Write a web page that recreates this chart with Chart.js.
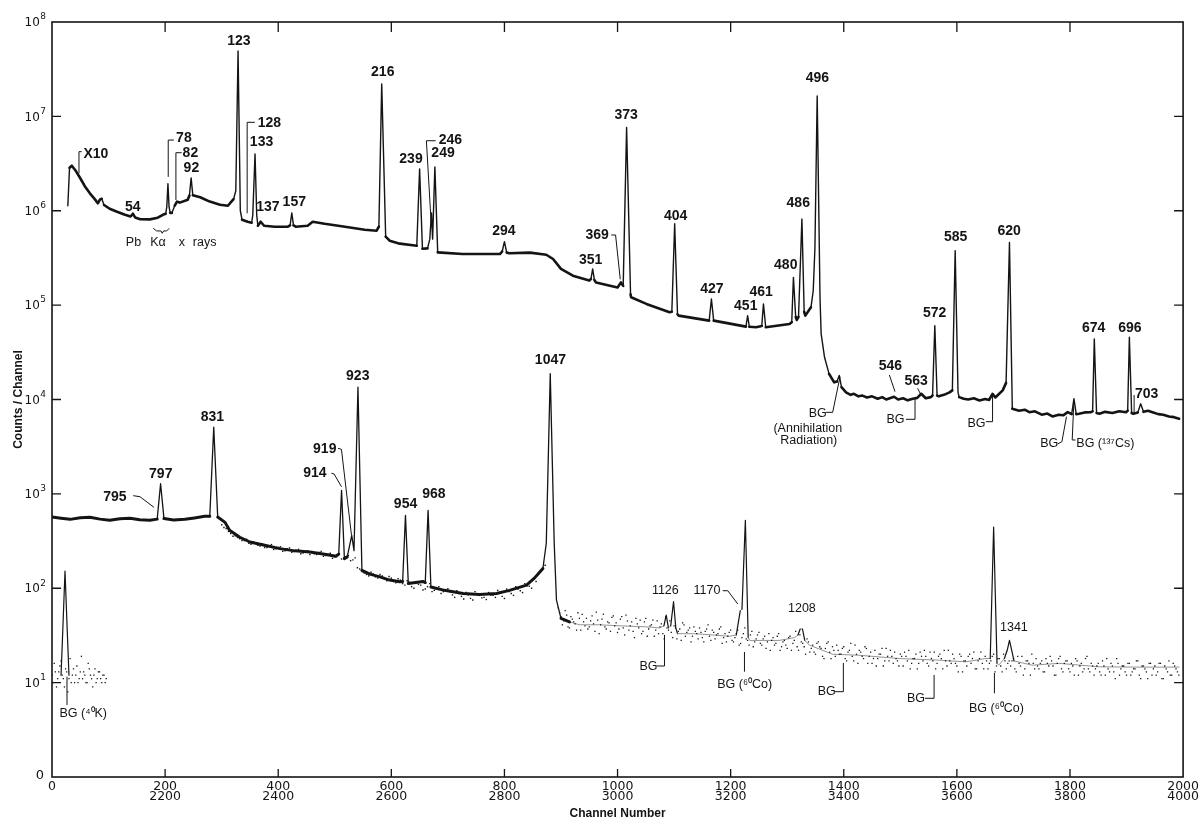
<!DOCTYPE html>
<html><head><meta charset="utf-8">
<script src="https://cdn.jsdelivr.net/npm/chart.js@4.4.0/dist/chart.umd.min.js"></script>
<style>html,body{margin:0;padding:0;background:#fff;}canvas{display:block;}</style>
</head><body>
<canvas id="c" width="1203" height="821"></canvas>
<script>
// ---------- tick values ----------
const xTickValues = [0,200,400,600,800,1000,1200,1400,1600,1800,2000];
const yTickValues = [1,10,100,1e3,1e4,1e5,1e6,1e7,1e8];

// ---------- upper spectrum: channels 0-2000, [channel, counts] ----------
const upperSpectrum = [[28,1.13e6],[31,2.85e6],[35,3.0e6],[42,2.65e6],[50,2.21e6],[58,1.82e6],[67,1.53e6],[76,1.32e6],[81,1.2e6],[85,1.32e6],[88,1.34e6],[92,1.15e6],[102,1.05e6],[115,9.76e5],[129,9.07e5],[139,8.7e5],[143,9.3e5],[147,8.5e5],[156,8.13e5],[173,8.1e5],[187,8.44e5],[196,9.07e5],[201,9.3e5],[203,1.1e6],[205,1.93e6],[207,1.1e6],[209,9.5e5],[212,9.5e5],[217,1.13e6],[221,1.25e6],[226,1.22e6],[240,1.31e6],[243,1.45e6],[246,2.23e6],[249,1.46e6],[262,1.39e6],[279,1.25e6],[297,1.16e6],[311,1.13e6],[321,1.33e6],[325,1.63e6],[329,4.93e7],[333,1.0e6],[336,8.03e5],[346,7.65e5],[353,7.46e5],[355,9e5],[359,4.01e6],[362,9e5],[364,6.94e5],[369,7.65e5],[375,6.94e5],[394,6.78e5],[417,6.78e5],[421,7e5],[424,9.5e5],[427,7e5],[431,6.78e5],[452,6.94e5],[461,7.65e5],[482,7.28e5],[518,6.78e5],[553,6.3e5],[574,6.14e5],[578,6.78e5],[583,2.21e7],[590,5.31e5],[597,4.82e5],[615,4.48e5],[645,4.26e5],[650,2.78e6],[655,3.96e5],[664,3.99e5],[668,5e5],[671,9.5e5],[673,5e5],[677,2.92e6],[682,3.62e5],[726,3.48e5],[792,3.48e5],[796,3.7e5],[800,4.7e5],[804,3.6e5],[809,3.55e5],[845,3.6e5],[874,3.42e5],[886,3.08e5],[900,2.42e5],[921,2.05e5],[950,1.82e5],[953,1.9e5],[956,2.42e5],[959,1.85e5],[962,1.74e5],[1000,1.54e5],[1006,1.74e5],[1010,1.6e5],[1016,7.62e6],[1023,1.3e5],[1024,1.21e5],[1051,1.03e5],[1092,8.4e4],[1096,8.5e4],[1101,7.28e5],[1106,8e4],[1108,7.74e4],[1162,6.85e4],[1166,1.16e5],[1170,6.85e4],[1227,5.92e4],[1230,7.74e4],[1233,5.9e4],[1245,5.83e4],[1255,6e4],[1258,1.03e5],[1262,5.83e4],[1304,6.32e4],[1308,6.6e4],[1311,1.97e5],[1315,7.5e4],[1317,6.97e4],[1320,7.5e4],[1326,8.17e5],[1330,8.5e4],[1332,7.74e4],[1342,9.48e4],[1346,1.42e5],[1349,4e5],[1353,1.65e7],[1358,1.2e5],[1360,4.96e4],[1366,2.8e4],[1374,1.87e4],[1383,1.52e4],[1388,1.55e4],[1392,1.8e4],[1396,1.35e4],[1404,1.19e4],[1412,1.12e4],[1418,1.15e4],[1426,1.08e4],[1433,1.1e4],[1441,1.05e4],[1450,1.08e4],[1460,1.02e4],[1468,1.06e4],[1475,1.0e4],[1489,1.07e4],[1496,1.0e4],[1505,1.03e4],[1513,9.8e3],[1522,1.02e4],[1530,1.04e4],[1537,1.15e4],[1545,1.03e4],[1554,1.06e4],[1557,1.1e4],[1561,6.07e4],[1565,1.1e4],[1568,1.08e4],[1577,1.12e4],[1587,1.19e4],[1592,1.25e4],[1597,3.78e5],[1602,1.2e4],[1604,1.06e4],[1612,1.02e4],[1620,1.0e4],[1630,1.03e4],[1640,9.76e3],[1650,1.01e4],[1657,9.9e3],[1663,1.15e4],[1668,1.05e4],[1681,1.25e4],[1687,1.5e4],[1693,4.62e5],[1698,7.97e3],[1710,7.6e3],[1720,7.8e3],[1728,7.34e3],[1738,7.5e3],[1750,6.9e3],[1760,7.1e3],[1769,6.61e3],[1780,6.9e3],[1788,6.8e3],[1796,7.34e3],[1803,7e3],[1807,1.02e4],[1811,7e3],[1816,7.06e3],[1826,7.3e3],[1837,7.34e3],[1840,7.5e3],[1843,4.39e4],[1847,7.2e3],[1852,7.06e3],[1862,7.4e3],[1875,7.2e3],[1887,7.5e3],[1899,7.34e3],[1902,7.6e3],[1905,4.56e4],[1909,7.2e3],[1912,7.06e3],[1920,7.3e3],[1925,9e3],[1930,7.4e3],[1938,7.6e3],[1946,7.34e3],[1956,7.0e3],[1965,6.9e3],[1975,6.61e3],[1984,6.5e3],[1993,6.25e3]];

// ---------- lower spectrum: channels 2000-4000, [channel, counts] ----------
const lowerSpectrumA = [[2000,568],[2016,552],[2032,537],[2050,558],[2067,564],[2085,540],[2102,525],[2120,545],[2138,551],[2155,532],[2173,525],[2186,540],[2192,1280],[2198,547],[2215,530],[2235,537],[2252,556],[2270,578],[2279,580],[2286,5090],[2293,568],[2306,499],[2314,411],[2332,347],[2350,309],[2376,285],[2403,263],[2429,249],[2456,242],[2482,229],[2502,218],[2507,230],[2512,1090],[2517,206],[2522,215],[2530,364],[2534,250],[2541,13500],[2548,155],[2562,141],[2580,132],[2597,122],[2615,117],[2620,118],[2625,592],[2630,112],[2656,118],[2660,115],[2665,669],[2670,103],[2694,95],[2727,88],[2756,86],[2786,88],[2809,95],[2839,108],[2853,128],[2868,162],[2874,300],[2881,18800],[2888,300],[2892,75],[2900,48],[2915,44]];
const lowerSpectrumB = [[2915,44],[2933,41],[2968,41],[3003,40],[3051,39],[3074,38],[3082,40],[3086,52],[3090,38],[3094,40],[3099,72],[3103,38],[3106,33],[3136,33],[3168,32],[3198,31],[3210,32],[3217,58],[3220,60],[3226,525],[3231,30],[3234,28],[3260,28],[3286,28],[3313,30],[3319,32],[3323,37],[3327,37],[3331,28],[3339,25],[3380,20],[3427,19.5],[3498,18],[3569,17.3],[3616,16.6],[3651,18],[3659,18],[3665,445],[3671,16],[3674,15.3],[3684,18],[3689,22],[3693,28],[3697,22],[3701,17],[3733,15.3],[3781,16],[3852,14.7],[3922,14.6],[3993,14.6]];
const noiseAStart = 2300, noiseAStep = 8;
const noiseACounts = [470,430,380,360,335,320,300,310,285,295, 270,290,262,275,250,268,245,258,236,250, 240,228,246,222,235,215,230,210,222,200, 165,150,140,148,132,140,125,133,118,126, 112,120,104,115,108,98,112,95,104,92, 99,85,94,82,90,78,92,84,80,90, 84,95,82,98,88,104,94,112,105,125, 140,160];
const noiseA2Start = 2304, noiseA2Step = 8;
const noiseA2Counts = [440,400,355,345,320,330,292,300,280,270, 282,258,270,246,262,240,252,232,244,228, 232,240,218,230,208,224,204,215,196,210, 160,145,135,142,128,135,120,128,114,122, 108,116,100,110,96,104,92,100,88,96, 92,80,88,77,85,75,86,79,76,84, 80,90,78,92,84,98,90,106,100,118, 150,175];
const noiseBStart = 2895, noiseBStep = 5;
const noiseBCounts = [62,50,45,52,38,47,42,55,36,44, 48,39,51,35,46,41,53,37,43,49, 40,34,47,38,52,36,44,30,42,46, 35,48,37,41,31,45,39,33,50,36, 34,40,29,37,43,31,36,27,39,33, 38,30,35,41,28,34,32,37,26,33, 31,36,27,33,25,30,38,28,32,24, 29,34,25,31,27,22,30,26,33,24, 28,23,31,26,35,22,27,24,29,21, 25,20,27,23,18,26,21,24,19,22, 20,24,17,22,19,25,16,21,18,23, 19,16,22,18,20,15,23,17,19,21, 17,20,15,19,22,16,18,14,21,17, 19,15,18,21,16,20,14,17,22,16, 18,15,20,13,17,19,16,21,14,18, 16,19,14,17,20,15,18,13,17,16, 15,18,13,16,19,14,17,12,16,18, 14,17,13,16,19,15,12,18,14,16, 17,13,15,18,12,16,14,19,13,15, 14,16,12,15,18,13,15,11,16,14, 15,12,16,13,14,17,11,15,13,16, 12,15,13,16,11,14,17,12,15,13];
const noiseB2Start = 2897.5, noiseB2Step = 5;
const noiseB2Counts = [55,41,58,39,50,44,36,48,53,40, 37,45,42,56,33,47,39,44,35,51, 43,37,50,32,45,40,35,48,38,33, 44,31,40,46,36,33,42,29,38,45, 30,38,35,28,41,34,38,31,35,29, 34,27,37,31,36,29,33,39,30,27, 34,28,30,36,26,33,29,25,35,27, 32,26,29,23,33,28,25,31,22,27, 25,30,22,28,24,32,26,20,27,23, 21,26,24,19,23,27,18,22,25,20, 23,18,21,26,17,20,22,19,24,16, 21,18,15,20,23,17,19,22,16,18, 15,19,21,17,14,18,20,16,19,22, 16,21,17,14,19,18,22,15,17,20, 16,13,19,17,15,20,18,14,17,21, 14,17,16,19,13,18,15,20,14,17, 17,14,19,15,12,17,16,20,14,15, 16,13,18,15,17,12,16,19,13,17, 14,16,12,17,15,13,18,14,16,12, 15,13,17,12,14,16,13,18,12,15, 13,16,12,14,17,12,15,14,11,16, 14,12,16,11,15,13,12,16,14,12];

// ---------- wrap-around: channels 4000-4096 ----------
const tailPeak = [[4016,12],[4019,35],[4023,152],[4027,35],[4030,12]];
const tailNoiseStart = 4000, tailNoiseStep = 4;
const tailNoiseCounts = [12,16,9,13,17,11,14,8,18,12,10,15,11,19,13,10,16,12,9,14,11,13,10,12,11];
const tailNoise2Start = 4002, tailNoise2Step = 4;
const tailNoise2Counts = [10,13,11,15,12,9,13,11,10,14,12,10,13,11,12,10,14,11,12,10,13,11,12,10];

// ---------- annotations (x in plotted channel units, y in log10 counts) ----------
const peakLabels = [
 ['X10',77.7,6.60],['54',143,6.035],['78',233.2,6.771],['82',244.7,6.612],['92',246.5,6.456],['123',330.4,7.799],
 ['128',384.3,6.933],['133',370.5,6.732],['137',381.6,6.036],['157',428.4,6.096],['216',584.8,7.470],
 ['239',634.8,6.548],['246',704.4,6.75],['249',691.4,6.615],['294',798.9,5.785],['351',952.3,5.478],['369',963.8,5.743],
 ['373',1015.3,7.015],['404',1102.8,5.944],['427',1166.9,5.168],['451',1226.7,4.991],['461',1253.8,5.142],['480',1297.4,5.425],
 ['486',1319.5,6.085],['496',1353.4,7.407],['546',1482.6,4.355],['563',1527.9,4.196],['572',1560.6,4.913],['585',1597.7,5.725],
 ['620',1692.3,5.789],['674',1841.9,4.754],['696',1906,4.754],['703',1935.5,4.058],
 ['795',111.3,2.970],['797',192.3,3.211],['831',283.6,3.818],['914',464.7,3.218],['919',482.3,3.472],['923',540.6,4.25],
 ['954',625.1,2.893],['968',675.2,2.995],['1047',881.3,4.419]
];
const smallLabels = [
 ['Pb',144,5.661],['Kα',187.3,5.661],['x',229.7,5.661],['rays',269.8,5.661],
 ['BG',1353.9,3.853],['(Annihilation',1336.5,3.695],['Radiation)',1338.1,3.560],
 ['BG',1491.5,3.783],['BG',1634.6,3.748],['BG',1763.3,3.528],['BG (¹³⁷Cs)',1862.5,3.528],
 ['1126',1084.5,1.974],['1170',1158.1,1.974],['1208',1326,1.788],['1341',1700.8,1.586],
 ['BG',1054.8,1.169],['BG (⁶⁰Co)',1224.9,0.975],['BG',1370,0.904],['BG',1527.7,0.834],['BG (⁶⁰Co)',1670,0.728],['BG (⁴⁰K)',55.2,0.675]
];
const leaderLines = [
 [[52.5,6.626],[47.7,6.626],[47.7,6.397]],
 [[215.5,6.749],[205.5,6.749],[205.5,6.359]],
 [[229.2,6.615],[219.1,6.615],[219.1,6.114]],
 [[358.7,6.937],[345.1,6.937],[345.1,5.973]],
 [[678.4,6.742],[662,6.742],[670.8,5.831]],
 [[988.9,5.743],[996.5,5.743],[1004.8,5.274]],
 [[1480.6,4.260],[1490.6,4.083]],
 [[1530.6,4.119],[1536.6,4.048]],
 [[1368.7,3.864],[1380.4,3.864],[1393.4,4.242]],
 [[1510,3.790],[1526,3.790],[1526,4.013]],
 [[1651.4,3.765],[1663.1,3.765],[1663.1,4.048]],
 [[1777.9,3.528],[1785.7,3.553],[1793.8,3.818]],
 [[1809.8,3.571],[1803.9,3.571],[1806.9,3.977]],
 [[1913.4,4.048],[1913.4,3.854]],
 [[143.6,2.981],[155.5,2.970],[180.2,2.858]],
 [[494.2,3.218],[498.8,3.211],[511.8,3.076]],
 [[505.8,3.483],[511.8,3.472],[529.5,2.564]],
 [[1186.1,1.974],[1194.9,1.974],[1212.6,1.833]],
 [[1069.4,1.176],[1083,1.176],[1083,1.505]],
 [[1224.4,1.325],[1224.4,1.116]],
 [[1383.4,0.904],[1399.3,0.904],[1399.3,1.208]],
 [[1543.6,0.834],[1559.7,0.834],[1559.7,1.081]],
 [[1666.4,1.102],[1666.4,0.887]],
 [[26.5,1.063],[26.5,0.763]]
];
const braceLine = [[179,5.814],[185,5.786],[192.6,5.786],[194.9,5.761],[197.3,5.786],[202.7,5.786],[207.3,5.814]];

// ---------- build datasets ----------
const FONT = "'Liberation Sans', Arial, sans-serif";
const TICKFONT = "'DejaVu Sans', sans-serif";
const INK = '#141414';
const toPts = (arr, off) => arr.map(([c, v]) => ({x: c - off, y: v}));
const seqPts = (start, step, counts, off) => counts.map((v, i) => ({x: start + i*step - off, y: v}));
const isSteep = ctx => {
  const dx = Math.abs(ctx.p1.x - ctx.p0.x), dy = Math.abs(ctx.p1.y - ctx.p0.y);
  return dy > 2.5*dx && dy > 5;
};
const lineDs = (data, wide, thin, flatColor) => ({data, borderColor: INK, borderWidth: wide, pointRadius: 0,
  borderJoinStyle: 'round', borderCapStyle: 'round', tension: 0,
  segment: {borderWidth: ctx => isSteep(ctx) ? thin : wide, borderColor: ctx => isSteep(ctx) ? INK : (flatColor || INK)}});
const dotDs = (data, r) => ({data, showLine: false, pointRadius: r, pointStyle: 'rect', pointBorderWidth: 0,
  pointBackgroundColor: INK, borderColor: INK});

const datasets = [
  dotDs(seqPts(noiseAStart, noiseAStep, noiseACounts, 2000), 1.0),
  dotDs(seqPts(noiseA2Start, noiseA2Step, noiseA2Counts, 2000), 1.0),
  dotDs(seqPts(noiseBStart, noiseBStep, noiseBCounts, 2000), 0.9),
  dotDs(seqPts(noiseB2Start, noiseB2Step, noiseB2Counts, 2000), 0.9),
  dotDs(seqPts(tailNoiseStart, tailNoiseStep, tailNoiseCounts, 4000), 0.9),
  dotDs(seqPts(tailNoise2Start, tailNoise2Step, tailNoise2Counts, 4000), 0.9),
  lineDs(toPts(upperSpectrum, 0), 2.6, 1.4),
  lineDs(toPts(lowerSpectrumA, 2000), 3.0, 1.3),
  lineDs(toPts(lowerSpectrumB, 2000), 0.8, 1.2, '#777'),
  lineDs(toPts(tailPeak, 4000), 1.2, 1.2)
];

// ---------- plugins ----------
const framePlugin = {
  id: 'frame',
  afterDatasetsDraw(chart) {
    const {ctx, chartArea: a, scales: {x, y}} = chart;
    ctx.save();
    ctx.strokeStyle = INK; ctx.lineWidth = 1.6;
    ctx.strokeRect(a.left, a.top, a.right - a.left, a.bottom - a.top);
    ctx.lineWidth = 1.3;
    ctx.beginPath();
    xTickValues.slice(1, -1).forEach(v => {
      const px = x.getPixelForValue(v);
      ctx.moveTo(px, a.bottom); ctx.lineTo(px, a.bottom - 8);
      ctx.moveTo(px, a.top); ctx.lineTo(px, a.top + 10);
    });
    yTickValues.slice(1, -1).forEach(v => {
      const py = y.getPixelForValue(v);
      ctx.moveTo(a.left, py); ctx.lineTo(a.left + 9, py);
      ctx.moveTo(a.right, py); ctx.lineTo(a.right - 9, py);
    });
    ctx.stroke();
    // y tick labels: 10 with raised exponent
    ctx.fillStyle = INK; ctx.textBaseline = 'middle'; ctx.textAlign = 'right';
    const xr = a.left - 6;
    yTickValues.forEach(v => {
      const py = y.getPixelForValue(v);
      const e = Math.round(Math.log10(v));
      if (e === 0) { ctx.font = `13px ${TICKFONT}`; ctx.fillText('0', xr - 2, py - 1); return; }
      ctx.font = `9px ${TICKFONT}`;
      const ew = ctx.measureText(String(e)).width;
      ctx.fillText(String(e), xr, py - 5);
      ctx.font = `12px ${TICKFONT}`;
      ctx.fillText('10', xr - ew - 0.5, py + 1);
    });
    ctx.restore();
  }
};
const annotPlugin = {
  id: 'annot',
  afterDatasetsDraw(chart) {
    const {ctx, scales: {x, y}} = chart;
    const P = ([c, d]) => [x.getPixelForValue(c), y.getPixelForValue(Math.pow(10, d))];
    ctx.save();
    ctx.strokeStyle = INK; ctx.fillStyle = INK; ctx.lineWidth = 1;
    leaderLines.concat([braceLine]).forEach(line => {
      ctx.beginPath();
      line.forEach((pt, i) => { const [px, py] = P(pt); i ? ctx.lineTo(px, py) : ctx.moveTo(px, py); });
      ctx.stroke();
    });
    ctx.textAlign = 'center'; ctx.textBaseline = 'middle';
    ctx.font = `bold 14px ${FONT}`;
    peakLabels.forEach(([t, c, d]) => { const [px, py] = P([c, d]); ctx.fillText(t, px, py); });
    ctx.font = `12.5px ${FONT}`;
    smallLabels.forEach(([t, c, d]) => { const [px, py] = P([c, d]); ctx.fillText(t, px, py); });
    ctx.restore();
  }
};

new Chart(document.getElementById('c'), {
  type: 'line',
  data: {datasets},
  options: {
    responsive: false, animation: false, devicePixelRatio: 1,
    layout: {padding: {left: 0, right: 19, top: 22, bottom: 0}},
    plugins: {legend: {display: false}, tooltip: {enabled: false}},
    scales: {
      x: {
        type: 'linear', min: 0, max: 2000,
        grid: {display: false, drawTicks: false}, border: {display: false},
        afterBuildTicks: s => { s.ticks = xTickValues.map(v => ({value: v})); },
        afterFit: s => { s.height = 44; },
        ticks: {padding: 4, autoSkip: false, maxRotation: 0, color: INK,
          font: {family: TICKFONT, size: 12.5, lineHeight: 0.86},
          callback: v => v === 0 ? '0' : [String(v), String(v + 2000)]},
        title: {display: true, text: 'Channel Number', color: INK,
          font: {family: FONT, size: 12, weight: 'bold'}, padding: {top: 0, bottom: 0}}
      },
      y: {
        type: 'logarithmic', min: 1, max: 1e8,
        grid: {display: false, drawTicks: false}, border: {display: false},
        afterBuildTicks: s => { s.ticks = yTickValues.map(v => ({value: v})); },
        afterFit: s => { s.width = 52; },
        ticks: {display: false},
        title: {display: true, text: 'Counts / Channel', color: INK,
          font: {family: FONT, size: 12, weight: 'bold'}, padding: {top: 11, bottom: 0}}
      }
    }
  },
  plugins: [framePlugin, annotPlugin]
});
</script></body></html>
